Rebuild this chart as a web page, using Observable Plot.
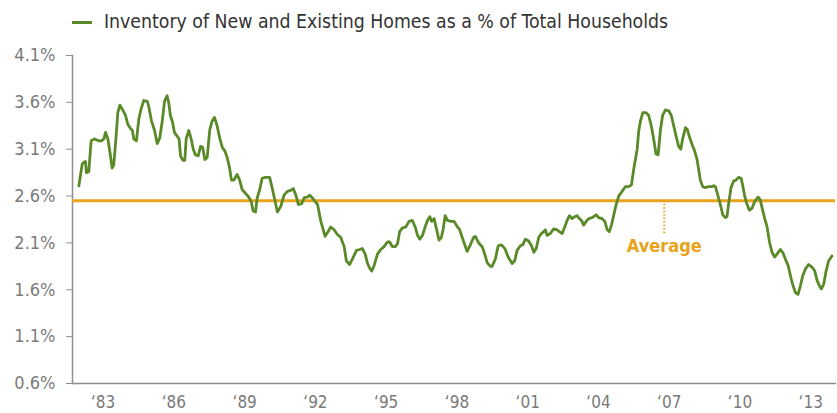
<!DOCTYPE html>
<html>
<head>
<meta charset="utf-8">
<script src="https://cdn.jsdelivr.net/npm/d3@7"></script>
<script src="https://cdn.jsdelivr.net/npm/@observablehq/plot@0.6"></script>
<style>
  html, body { margin: 0; padding: 0; background: #fff; }
  #wrap { width: 837px; height: 413px; position: relative; overflow: hidden;
          font-family: "Liberation Sans Narrow", "DejaVu Sans Condensed", "Roboto Condensed", Roboto, sans-serif;
          font-stretch: condensed; }
  #legend { height: 40px; position: relative; }
  #legend .sw { position: absolute; left: 72px; top: 21px; width: 20px; height: 3px; }
  #legend .lt { position: absolute; left: 104px; top: 10px; font-size: 19.3px; line-height: 24px; color: #333; white-space: nowrap; }
  #chart svg { display: block; }
</style>
</head>
<body>
<div id="wrap">
  <div id="legend"><span class="sw"></span><span class="lt"></span></div>
  <div id="chart"></div>
</div>
<script>
// ---- data ----
const legendLabel = "Inventory of New and Existing Homes as a % of Total Households";

const years = [
  1981.97,1982.11,1982.18,1982.25,1982.29,1982.39,1982.49,1982.63,1982.81,1982.93,
  1983.03,1983.10,1983.20,1983.28,1983.38,1983.45,1983.57,1983.62,1983.71,1983.85,
  1983.95,1984.04,1984.16,1984.24,1984.30,1984.41,1984.51,1984.61,1984.72,1984.87,
  1984.93,1985.05,1985.18,1985.29,1985.40,1985.50,1985.60,1985.71,1985.78,1985.85,
  1985.94,1986.02,1986.16,1986.22,1986.28,1986.38,1986.46,1986.52,1986.63,1986.73,
  1986.82,1986.91,1987.03,1987.13,1987.22,1987.31,1987.41,1987.52,1987.62,1987.72,
  1987.83,1987.94,1988.05,1988.16,1988.26,1988.36,1988.44,1988.54,1988.68,1988.79,
  1988.89,1989.03,1989.17,1989.28,1989.36,1989.46,1989.53,1989.64,1989.74,1989.88,
  1990.06,1990.18,1990.39,1990.53,1990.67,1990.81,1990.95,1991.06,1991.17,1991.28,
  1991.42,1991.52,1991.66,1991.76,1991.87,1991.99,1992.09,1992.23,1992.41,1992.51,
  1992.65,1992.79,1992.93,1993.07,1993.22,1993.31,1993.45,1993.57,1993.74,1993.88,
  1993.99,1994.11,1994.21,1994.30,1994.39,1994.49,1994.63,1994.77,1994.91,1995.05,
  1995.15,1995.26,1995.38,1995.48,1995.57,1995.69,1995.83,1995.97,1996.11,1996.23,
  1996.33,1996.42,1996.54,1996.65,1996.75,1996.85,1996.93,1997.03,1997.13,1997.24,
  1997.34,1997.41,1997.50,1997.60,1997.74,1997.88,1998.02,1998.10,1998.22,1998.43,
  1998.57,1998.71,1998.78,1998.92,1999.07,1999.18,1999.28,1999.42,1999.49,1999.63,
  1999.75,1999.89,2000.03,2000.17,2000.34,2000.45,2000.55,2000.69,2000.79,2000.90,
  2001.04,2001.16,2001.26,2001.36,2001.47,2001.58,2001.68,2001.75,2001.82,2001.96,
  2002.10,2002.25,2002.34,2002.46,2002.57,2002.67,2002.77,2002.88,2002.99,2003.09,
  2003.19,2003.28,2003.37,2003.48,2003.59,2003.73,2003.90,2004.01,2004.15,2004.27,
  2004.37,2004.46,2004.55,2004.65,2004.75,2004.86,2005.00,2005.14,2005.28,2005.40,
  2005.49,2005.64,2005.71,2005.78,2005.88,2006.02,2006.13,2006.24,2006.34,2006.44,
  2006.53,2006.63,2006.72,2006.84,2006.98,2007.09,2007.19,2007.29,2007.40,2007.49,
  2007.57,2007.69,2007.77,2007.86,2007.97,2008.08,2008.18,2008.25,2008.32,2008.42,
  2008.53,2008.67,2008.79,2008.89,2008.96,2009.07,2009.17,2009.27,2009.38,2009.45,
  2009.52,2009.62,2009.73,2009.83,2009.94,2010.05,2010.11,2010.20,2010.30,2010.40,
  2010.51,2010.62,2010.77,2010.86,2010.96,2011.05,2011.15,2011.25,2011.36,2011.47,
  2011.57,2011.71,2011.81,2011.92,2012.04,2012.14,2012.23,2012.35,2012.46,2012.56,
  2012.66,2012.77,2012.91,2013.06,2013.17,2013.27,2013.37,2013.45,2013.55,2013.65,
  2013.76,2013.90
];

const inventory = [
  2.71,2.94,2.96,2.97,2.85,2.86,3.19,3.21,3.19,3.19,
  3.21,3.28,3.21,3.08,2.90,2.93,3.31,3.49,3.57,3.51,
  3.46,3.37,3.32,3.30,3.21,3.19,3.42,3.53,3.62,3.61,
  3.56,3.40,3.30,3.16,3.22,3.39,3.61,3.67,3.60,3.46,
  3.39,3.28,3.23,3.21,3.03,2.98,2.98,3.21,3.30,3.21,
  3.10,3.04,3.03,3.13,3.12,2.99,3.01,3.31,3.40,3.44,
  3.35,3.22,3.12,3.08,3.01,2.90,2.77,2.77,2.83,2.77,
  2.67,2.63,2.59,2.54,2.44,2.43,2.58,2.67,2.79,2.80,
  2.80,2.67,2.43,2.49,2.61,2.65,2.66,2.68,2.61,2.51,
  2.52,2.58,2.59,2.61,2.58,2.54,2.51,2.33,2.17,2.21,
  2.27,2.24,2.19,2.16,2.06,1.91,1.87,1.93,2.02,2.03,
  2.04,1.98,1.88,1.83,1.80,1.86,1.98,2.03,2.06,2.11,
  2.11,2.06,2.06,2.09,2.22,2.26,2.27,2.33,2.34,2.27,
  2.18,2.14,2.18,2.27,2.34,2.38,2.33,2.36,2.25,2.13,
  2.16,2.24,2.39,2.34,2.33,2.33,2.27,2.25,2.16,2.01,
  2.08,2.16,2.17,2.10,2.06,1.98,1.89,1.85,1.85,1.93,
  2.07,2.08,2.04,1.95,1.88,1.91,2.02,2.07,2.08,2.14,
  2.12,2.07,2.00,2.04,2.16,2.20,2.22,2.24,2.18,2.20,
  2.25,2.24,2.22,2.20,2.27,2.34,2.39,2.36,2.38,2.39,
  2.36,2.34,2.29,2.33,2.36,2.37,2.40,2.37,2.36,2.33,
  2.24,2.22,2.29,2.40,2.51,2.60,2.65,2.70,2.70,2.72,
  2.88,3.10,3.30,3.40,3.49,3.49,3.46,3.35,3.21,3.05,
  3.04,3.31,3.46,3.52,3.51,3.46,3.35,3.24,3.13,3.10,
  3.21,3.33,3.31,3.23,3.15,3.08,2.99,2.88,2.77,2.70,
  2.69,2.70,2.70,2.71,2.70,2.60,2.51,2.40,2.37,2.38,
  2.52,2.69,2.76,2.77,2.80,2.79,2.72,2.60,2.51,2.45,
  2.47,2.54,2.59,2.56,2.45,2.36,2.27,2.11,2.00,1.95,
  1.98,2.03,2.00,1.93,1.86,1.75,1.66,1.57,1.55,1.64,
  1.75,1.82,1.87,1.84,1.80,1.70,1.64,1.61,1.66,1.80,
  1.91,1.96
];

const averageValue = 2.55;
const averageLabel = "Average";
const averageMarkerYear = 2006.79;
const averageMarkerBottom = 2.18;
const averageLabelValue = 2.06;

const yTicks = [0.6, 1.1, 1.6, 2.1, 2.6, 3.1, 3.6, 4.1];
const yTickLabels = ["0.6%", "1.1%", "1.6%", "2.1%", "2.6%", "3.1%", "3.6%", "4.1%"];
const xTicks = [1983, 1986, 1989, 1992, 1995, 1998, 2001, 2004, 2007, 2010, 2013];
const xTickLabels = ["\u201883", "\u201886", "\u201889", "\u201892", "\u201895", "\u201898", "\u201801", "\u201804", "\u201807", "\u201810", "\u201813"];

// ---- styling ----
const green = "#5a8a28";
const orange = "#e9a31b";
const axisGray = "#8f8f8f";
const labelGray = "#7a7a7a";
const font = "'Liberation Sans Narrow', 'DejaVu Sans Condensed', 'Roboto Condensed', Roboto, sans-serif";

const rows = years.map((y, i) => ({year: y, value: inventory[i]}));
const yLabelMap = new Map(yTicks.map((t, i) => [t, yTickLabels[i]]));
const xLabelMap = new Map(xTicks.map((t, i) => [t, xTickLabels[i]]));

document.querySelector("#legend .sw").style.background = green;
document.querySelector("#legend .lt").textContent = legendLabel;

const chart = Plot.plot({
  width: 837,
  height: 373,
  marginLeft: 72,
  marginRight: 2,
  marginTop: 15,
  marginBottom: 30,
  style: {fontFamily: font, color: labelGray, background: "#fff", overflow: "visible"},
  x: {type: "linear", domain: [1981.7, 2014.05], axis: null, label: null},
  y: {domain: [0.6, 4.1], axis: null, label: null},
  marks: [
    Plot.axisY({ticks: yTicks, tickFormat: d => yLabelMap.get(d), tickSize: 6, tickPadding: 11,
                fontSize: 18, stroke: axisGray, fill: labelGray, label: null}),
    Plot.axisX({ticks: xTicks, tickFormat: d => xLabelMap.get(d), tickSize: 0, tickPadding: 12,
                fontSize: 17, fill: labelGray, label: null}),
    Plot.frame({anchor: "left", stroke: axisGray, strokeWidth: 1.5}),
    Plot.frame({anchor: "bottom", stroke: axisGray, strokeWidth: 1.5}),
    Plot.ruleY([averageValue], {stroke: orange, strokeWidth: 3}),
    Plot.ruleX([averageMarkerYear], {y1: averageValue, y2: averageMarkerBottom, stroke: orange,
                strokeWidth: 2, strokeDasharray: "1.5,2"}),
    Plot.text([averageLabel], {x: averageMarkerYear, y: averageLabelValue, text: d => d,
               fill: orange, fontSize: 18, fontWeight: "bold", textAnchor: "middle"}),
    Plot.line(rows, {x: "year", y: "value", stroke: green, strokeWidth: 2.8, curve: "linear"})
  ]
});
document.getElementById("chart").appendChild(chart);
</script>
</body>
</html>
